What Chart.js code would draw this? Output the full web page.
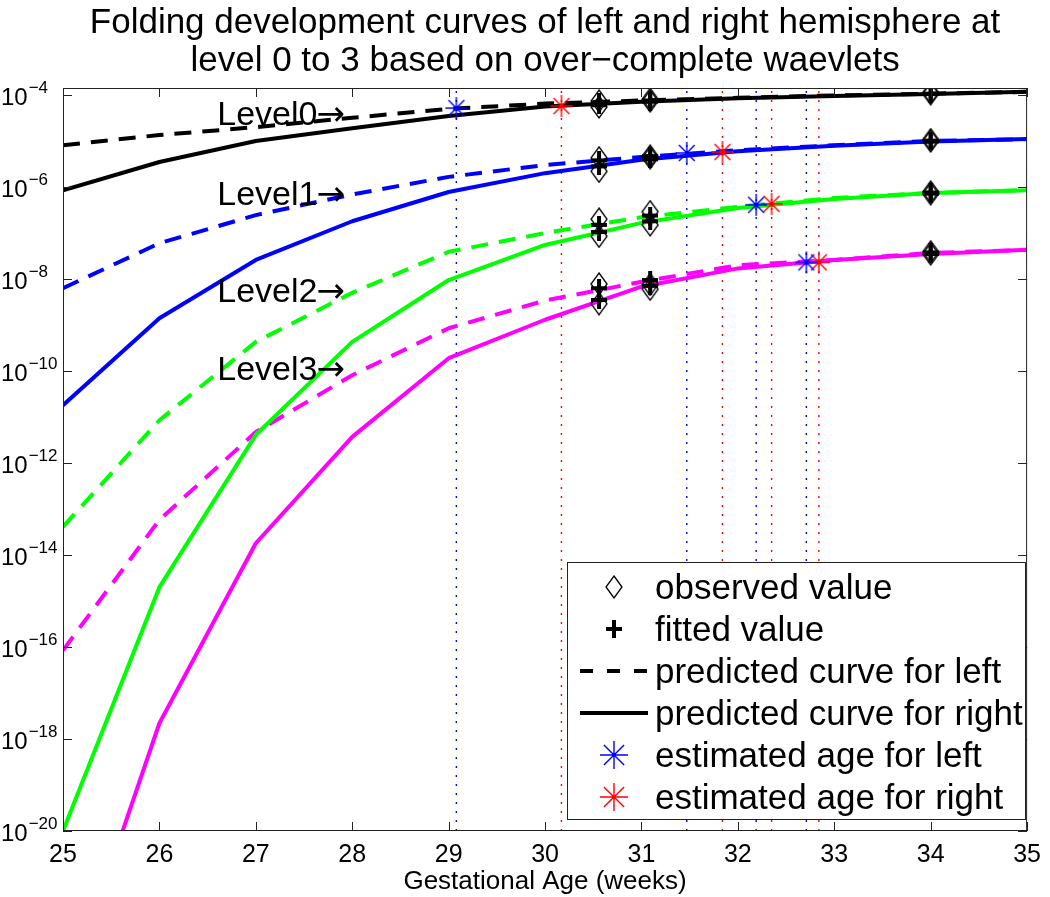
<!DOCTYPE html>
<html>
<head>
<meta charset="utf-8">
<script src="https://cdn.jsdelivr.net/npm/chart.js@4.4.1/dist/chart.umd.min.js"></script>
<style>
  html, body { margin: 0; padding: 0; background: #fff; }
  #wrap { width: 1050px; height: 897px; }
</style>
</head>
<body>
<div id="wrap"><canvas id="chart" width="1050" height="897"></canvas></div>
<script>
// gestational age (weeks) and predicted curves, left = dashed, right = solid
const weeks = [25, 26, 27, 28, 29, 30, 31, 32, 33, 34, 35];
const level0Left  = [8.1e-6, 1.35e-5, 2.0e-5, 3.2e-5, 5.0e-5, 6.5e-5, 7.6e-5, 8.7e-5, 9.8e-5, 1.07e-4, 1.17e-4];
const level0Right = [8.5e-7, 3.5e-6, 1.0e-5, 1.9e-5, 3.5e-5, 5.6e-5, 7.1e-5, 8.5e-5, 9.5e-5, 1.05e-4, 1.17e-4];
const level1Left  = [6.3e-9, 6.0e-8, 2.45e-7, 6.9e-7, 1.66e-6, 3.0e-6, 4.5e-6, 6.3e-6, 8.1e-6, 1.0e-5, 1.1e-5];
const level1Right = [1.8e-11, 1.4e-9, 2.6e-8, 1.8e-7, 7.8e-7, 2.0e-6, 3.9e-6, 6.0e-6, 7.9e-6, 9.8e-6, 1.1e-5];
const level2Left  = [4.1e-14, 8.5e-12, 4.3e-10, 5.0e-9, 3.9e-8, 1.0e-7, 2.2e-7, 3.7e-7, 5.8e-7, 7.4e-7, 8.5e-7];
const level2Right = [1.0e-20, 2.0e-15, 4.1e-12, 4.3e-10, 9.5e-9, 5.5e-8, 1.66e-7, 3.5e-7, 5.5e-7, 7.4e-7, 8.5e-7];
const level3Left  = [8.5e-17, 5.8e-14, 4.7e-12, 8.1e-11, 8.5e-10, 3.4e-9, 8.7e-9, 2.0e-8, 2.6e-8, 3.7e-8, 4.3e-8];
const level3Right = [1.6e-24, 2.2e-18, 1.8e-14, 3.7e-12, 1.9e-10, 1.3e-9, 6.8e-9, 1.7e-8, 2.6e-8, 3.5e-8, 4.3e-8];

// observed / fitted values (left, right pairs) at the scan ages
const scanAges = [30.56, 30.56, 31.09, 31.09, 34, 34];
const observed0 = [7.4e-5, 5.5e-5, 8.1e-5, 7.4e-5, 1.12e-4, 1.07e-4];
const observed1 = [4.3e-6, 2.2e-6, 4.7e-6, 4.3e-6, 1.07e-5, 1.0e-5];
const observed2 = [2.0e-7, 8.5e-8, 2.9e-7, 1.5e-7, 7.8e-7, 7.1e-7];
const observed3 = [7.8e-9, 2.9e-9, 7.6e-9, 6.0e-9, 3.9e-8, 3.5e-8];
const fitted0 = [6.9e-5, 6.0e-5, 7.6e-5, 7.2e-5, 1.07e-4, 1.05e-4];
const fitted1 = [3.8e-6, 2.8e-6, 4.7e-6, 4.0e-6, 1.02e-5, 9.8e-6];
const fitted2 = [1.5e-7, 1.05e-7, 2.4e-7, 1.8e-7, 7.6e-7, 7.2e-7];
const fitted3 = [6.3e-9, 3.5e-9, 9.5e-9, 7.1e-9, 3.8e-8, 3.5e-8];

// estimated ages, levels 0..3
const leftAges = [29.08, 31.47, 32.19, 32.71];
const leftAgeValues = [5.2e-5, 5.5e-6, 4.1e-7, 2.3e-8];
const rightAges = [30.17, 31.84, 32.35, 32.84];
const rightAgeValues = [5.75e-5, 5.75e-6, 4.3e-7, 2.3e-8];

const yTicks = [1e-20, 1e-18, 1e-16, 1e-14, 1e-12, 1e-10, 1e-8, 1e-6, 1e-4];
const yMin = 1e-20, yMax = 1.42e-4;

const levelNames = ['Level0', 'Level1', 'Level2', 'Level3'];
const levelLabelX = 26.6;
const levelLabelY = [2.24e-5, 4.07e-7, 3.16e-9, 6.3e-11];

const legendLabels = ['observed value', 'fitted value', 'predicted curve for left',
  'predicted curve for right', 'estimated age for left', 'estimated age for right'];

const FONT = "'Liberation Sans', Arial, Helvetica, sans-serif";
const BLUE = '#0000ff', RED = '#ff0000';
const levelColors = ['#000000', '#0000ff', '#00ff00', '#ff00ff'];

// marker pictures
function makeDiamond() {
  const c = document.createElement('canvas');
  c.width = 18; c.height = 24;
  const g = c.getContext('2d');
  g.strokeStyle = '#000'; g.lineWidth = 1.3;
  g.beginPath();
  g.moveTo(9, 1); g.lineTo(17, 12); g.lineTo(9, 23); g.lineTo(1, 12); g.closePath();
  g.stroke();
  return c;
}
function makePlus() {
  const c = document.createElement('canvas');
  c.width = 16; c.height = 18;
  const g = c.getContext('2d');
  g.fillStyle = '#000';
  g.fillRect(0, 7, 16, 4);
  g.fillRect(6, 0, 4, 18);
  return c;
}
function makeStar(color, r) {
  const s = 2 * r + 4;
  const c = document.createElement('canvas');
  c.width = s; c.height = s;
  const g = c.getContext('2d');
  const m = s / 2, d = r * 0.72;
  g.strokeStyle = color; g.lineWidth = 1.4;
  g.beginPath();
  g.moveTo(m - r, m); g.lineTo(m + r, m);
  g.moveTo(m, m - r); g.lineTo(m, m + r);
  g.moveTo(m - d, m - d); g.lineTo(m + d, m + d);
  g.moveTo(m - d, m + d); g.lineTo(m + d, m - d);
  g.stroke();
  g.fillStyle = color;
  g.beginPath(); g.arc(m, m, 2.2, 0, Math.PI * 2); g.fill();
  return c;
}
const diamondImg = makeDiamond();
const plusImg = makePlus();
const blueStar = makeStar(BLUE, 11), redStar = makeStar(RED, 11);
const blueStarBig = makeStar(BLUE, 14), redStarBig = makeStar(RED, 14);

const DASH = [17, 11];
const curves = [
  [level0Left, level0Right], [level1Left, level1Right],
  [level2Left, level2Right], [level3Left, level3Right]
];
const datasets = [];

// estimated age markers
datasets.push({
  data: leftAges.map((a, i) => ({x: a, y: leftAgeValues[i]})),
  showLine: false, pointStyle: blueStar, order: 0
});
datasets.push({
  data: rightAges.map((a, i) => ({x: a, y: rightAgeValues[i]})),
  showLine: false, pointStyle: redStar, order: 0
});
// observed and fitted
[observed0, observed1, observed2, observed3].forEach(arr => {
  datasets.push({
    data: scanAges.map((a, i) => ({x: a, y: arr[i]})),
    showLine: false, pointStyle: diamondImg, order: 2
  });
});
[fitted0, fitted1, fitted2, fitted3].forEach(arr => {
  datasets.push({
    data: scanAges.map((a, i) => ({x: a, y: arr[i]})),
    showLine: false, pointStyle: plusImg, order: 1
  });
});
// curves
curves.forEach((pair, k) => {
  datasets.push({
    data: weeks.map((w, i) => ({x: w, y: pair[0][i]})),
    borderColor: levelColors[k], borderWidth: 4, borderDash: DASH,
    pointRadius: 0, order: 3
  });
  datasets.push({
    data: weeks.map((w, i) => ({x: w, y: pair[1][i]})),
    borderColor: levelColors[k], borderWidth: 4,
    pointRadius: 0, order: 3
  });
});
// dotted vertical lines at each estimated age
leftAges.forEach(a => datasets.push({
  data: [{x: a, y: yMin}, {x: a, y: yMax}],
  borderColor: BLUE, borderWidth: 1.4, borderDash: [2, 7], pointRadius: 0, order: 4
}));
rightAges.forEach(a => datasets.push({
  data: [{x: a, y: yMin}, {x: a, y: yMax}],
  borderColor: RED, borderWidth: 1.4, borderDash: [2, 7], pointRadius: 0, order: 4
}));

const framePlugin = {
  id: 'frame',
  afterDatasetsDraw(chart) {
    const {ctx, chartArea: a, scales: {x, y}} = chart;
    ctx.save();
    ctx.strokeStyle = '#222';
    ctx.lineWidth = 1;
    ctx.beginPath();
    x.ticks.forEach(t => {
      const px = Math.round(x.getPixelForValue(t.value)) + 0.5;
      ctx.moveTo(px, a.bottom); ctx.lineTo(px, a.bottom - 9);
      ctx.moveTo(px, a.top); ctx.lineTo(px, a.top + 9);
    });
    y.ticks.forEach(t => {
      const py = Math.round(y.getPixelForValue(t.value)) + 0.5;
      ctx.moveTo(a.left, py); ctx.lineTo(a.left + 9, py);
      ctx.moveTo(a.right, py); ctx.lineTo(a.right - 9, py);
    });
    ctx.stroke();
    ctx.strokeRect(a.left + 0.5, a.top + 0.5, a.right - a.left - 1, a.bottom - a.top - 1);

    // y tick labels 10^n
    ctx.fillStyle = '#000';
    ctx.textAlign = 'left';
    ctx.textBaseline = 'alphabetic';
    y.ticks.forEach(t => {
      const py = y.getPixelForValue(t.value);
      const e = Math.round(Math.log10(t.value));
      ctx.font = '24px ' + FONT;
      ctx.fillText('10', 1, py + 10);
      const w = ctx.measureText('10').width;
      ctx.font = '17px ' + FONT;
      ctx.fillText('\u2212' + Math.abs(e), 1 + w + 1, py - 2);
    });

    // level labels with arrows
    levelNames.forEach((s, i) => {
      const lx = x.getPixelForValue(levelLabelX), ly = y.getPixelForValue(levelLabelY[i]);
      ctx.font = '34px ' + FONT;
      ctx.fillText(s, lx, ly);
      const w = ctx.measureText(s).width;
      ctx.font = "34px 'DejaVu Sans', sans-serif";
      ctx.fillText('\u2192', lx + w - 1, ly);
    });
    ctx.restore();
  },
  afterDraw(chart) {
    const {ctx} = chart;
    const L = 567, T = 562, R = 1026, B = 820;
    ctx.save();
    ctx.fillStyle = '#fff';
    ctx.fillRect(L, T, R - L, B - T);
    ctx.strokeStyle = '#222';
    ctx.lineWidth = 1;
    ctx.strokeRect(L + 0.5, T + 0.5, R - L - 1, B - T - 1);
    const rowY = [587, 629, 671, 713, 755, 797];
    const mx = 614;
    const pics = [diamondImg, plusImg, null, null, blueStarBig, redStarBig];
    ctx.font = '35px ' + FONT;
    ctx.fillStyle = '#000';
    ctx.textBaseline = 'middle';
    ctx.textAlign = 'left';
    legendLabels.forEach((s, i) => {
      const yy = rowY[i];
      if (pics[i]) {
        ctx.drawImage(pics[i], mx - pics[i].width / 2, yy - pics[i].height / 2);
      } else {
        ctx.beginPath();
        ctx.strokeStyle = '#000';
        ctx.lineWidth = 4;
        ctx.setLineDash(i === 2 ? [13, 14] : []);
        ctx.moveTo(580, yy); ctx.lineTo(648, yy);
        ctx.stroke();
        ctx.setLineDash([]);
      }
      ctx.fillText(s, 655, yy + 2);
    });
    ctx.restore();
  }
};

new Chart(document.getElementById('chart'), {
  type: 'line',
  data: {datasets: datasets},
  plugins: [framePlugin],
  options: {
    responsive: false,
    animation: false,
    devicePixelRatio: 1,
    layout: {padding: {left: 0, right: 13, top: 0, bottom: 0}},
    elements: {line: {tension: 0, fill: false, borderJoinStyle: 'round'}},
    plugins: {
      legend: {display: false},
      tooltip: {enabled: false},
      title: {
        display: true,
        fullSize: false,
        text: ['Folding development curves of left and right hemisphere at',
               'level 0 to 3 based on over\u2212complete waevlets'],
        color: '#000',
        font: {family: FONT, size: 35, weight: 'normal', lineHeight: 1.1},
        padding: {top: 4, bottom: 7}
      }
    },
    scales: {
      x: {
        type: 'linear',
        min: 25, max: 35,
        afterFit(s) { s.height = 66; },
        grid: {display: false, drawTicks: false},
        border: {display: false},
        ticks: {stepSize: 1, color: '#000', padding: 9, font: {family: FONT, size: 25}},
        title: {display: true, text: 'Gestational Age (weeks)', color: '#000',
          font: {family: FONT, size: 26}, padding: {top: 0, bottom: 0}}
      },
      y: {
        type: 'logarithmic',
        min: yMin, max: yMax,
        afterBuildTicks(s) { s.ticks = yTicks.map(v => ({value: v})); },
        afterFit(s) { s.width = 63; },
        grid: {display: false, drawTicks: false},
        border: {display: false},
        ticks: {display: false}
      }
    }
  }
});
</script>
</body>
</html>
